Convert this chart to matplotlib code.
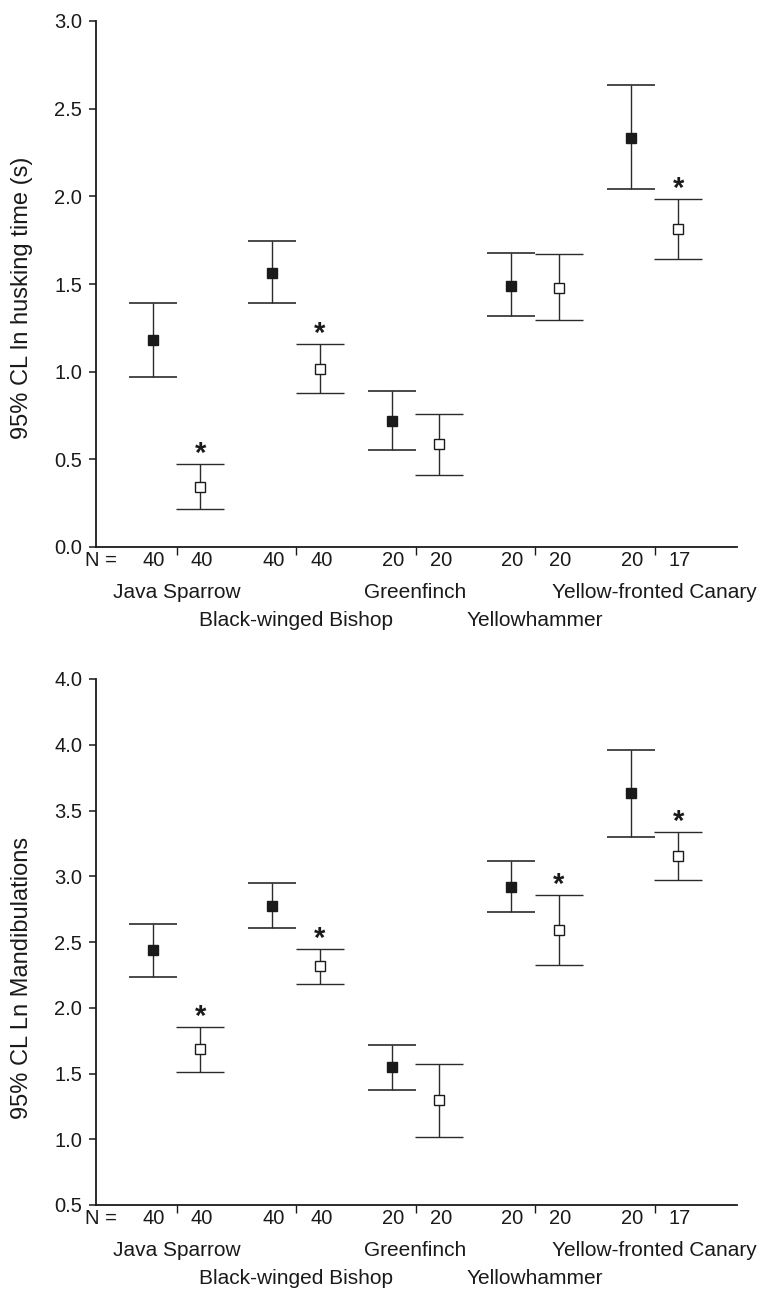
import numpy as np
import matplotlib
matplotlib.use("Agg")
import matplotlib.pyplot as plt

plt.rcParams['font.family'] = ['Liberation Sans', 'DejaVu Sans']

species = ['Java Sparrow', 'Black-winged Bishop', 'Greenfinch',
           'Yellowhammer', 'Yellow-fronted Canary']
n_filled = [40, 40, 20, 20, 20]
n_open = [40, 40, 20, 20, 17]

# ln husking time (s): mean with 95% CL
husk_mean_filled = [1.18, 1.56, 0.72, 1.49, 2.33]
husk_lo_filled = [0.97, 1.39, 0.555, 1.32, 2.04]
husk_hi_filled = [1.39, 1.745, 0.89, 1.675, 2.635]
husk_mean_open = [0.34, 1.015, 0.59, 1.48, 1.815]
husk_lo_open = [0.215, 0.88, 0.41, 1.295, 1.645]
husk_hi_open = [0.475, 1.155, 0.76, 1.67, 1.985]
husk_sig = [True, True, False, False, True]

# ln mandibulations: mean with 95% CL
mand_mean_filled = [2.44, 2.775, 1.55, 2.92, 3.63]
mand_lo_filled = [2.235, 2.61, 1.375, 2.725, 3.30]
mand_hi_filled = [2.635, 2.945, 1.72, 3.115, 3.96]
mand_mean_open = [1.685, 2.32, 1.30, 2.59, 3.155]
mand_lo_open = [1.51, 2.18, 1.015, 2.325, 2.97]
mand_hi_open = [1.855, 2.45, 1.57, 2.855, 3.335]
mand_sig = [True, True, False, True, True]

husk_ticks = [0.0, 0.5, 1.0, 1.5, 2.0, 2.5, 3.0]
husk_ticklabels = ['0.0', '0.5', '1.0', '1.5', '2.0', '2.5', '3.0']
mand_ticks = [0.5, 1.0, 1.5, 2.0, 2.5, 3.0, 3.5, 4.0, 4.5]
mand_ticklabels = ['0.5', '1.0', '1.5', '2.0', '2.5', '3.0', '3.5', '4.0', '4.0']

line_col = '#2b2b2b'
text_col = '#1a1a1a'
W, H = 763, 1289
fig = plt.figure(figsize=(W / 100, H / 100), dpi=100)


def px_axes(left, top, right, bottom):
    return fig.add_axes([left / W, 1 - bottom / H, (right - left) / W, (bottom - top) / H])


def draw_panel(ax, mf, lf, hf, mo, lo, ho, sig, ticks, ticklabels, ylabel, label_y):
    centers = np.arange(len(species))
    xf = centers - 0.2
    xo = centers + 0.2
    mf, lf, hf = map(np.asarray, (mf, lf, hf))
    mo, lo, ho = map(np.asarray, (mo, lo, ho))
    ax.errorbar(xf, mf, yerr=[mf - lf, hf - mf], fmt='s', color=line_col,
                ecolor=line_col, elinewidth=1.0, capsize=17.3, capthick=1.2,
                ms=7.2, mfc='#1a1a1a', mec='#1a1a1a', zorder=3)
    ax.errorbar(xo, mo, yerr=[mo - lo, ho - mo], fmt='s', color=line_col,
                ecolor=line_col, elinewidth=1.0, capsize=17.3, capthick=1.2,
                ms=6.5, mfc='white', mec='#1a1a1a', mew=1.0, zorder=3)
    for x, top, s in zip(xo, ho, sig):
        if s:
            ax.annotate('*', xy=(x, top), xytext=(0, 1.5), textcoords='offset points',
                        ha='center', va='baseline', fontsize=21, fontweight='bold',
                        color=text_col)

    ax.set_xlim(-0.674, 4.69)
    ax.set_ylim(ticks[0], ticks[-1])
    ax.set_xticks(centers)
    ax.set_xticklabels([])
    ax.set_yticks(ticks)
    ax.set_yticklabels(ticklabels)
    ax.tick_params(axis='y', direction='out', length=5, width=1.1, labelsize=14.5,
                   pad=5, colors=text_col)
    ax.tick_params(axis='x', direction='out', length=6, width=1.0, colors=text_col)
    for side in ('top', 'right'):
        ax.spines[side].set_visible(False)
    for side in ('left', 'bottom'):
        ax.spines[side].set_linewidth(1.3)
        ax.spines[side].set_color('#1a1a1a')

    ax.set_ylabel(ylabel, fontsize=17, color=text_col)
    ax.yaxis.set_label_coords(-0.098, label_y)

    # sample sizes under each mean, species names centred on the dividers
    kw = dict(xycoords=('data', 'axes fraction'), textcoords='offset points',
              ha='center', va='center', color=text_col)
    ax.annotate('N =', xy=(-0.63, 0), xytext=(0, -10), fontsize=14.5, **kw)
    for x, n in zip(xf, n_filled):
        ax.annotate(str(n), xy=(x, 0), xytext=(1, -10), fontsize=14.5, **kw)
    for x, n in zip(xo, n_open):
        ax.annotate(str(n), xy=(x, 0), xytext=(1, -10), fontsize=14.5, **kw)
    for i, name in enumerate(species):
        dy = -32.4 if i % 2 == 0 else -52.6
        ax.annotate(name, xy=(centers[i], 0), xytext=(0, dy), fontsize=15, **kw)


ax1 = px_axes(96, 21, 737, 547)
draw_panel(ax1, husk_mean_filled, husk_lo_filled, husk_hi_filled,
           husk_mean_open, husk_lo_open, husk_hi_open, husk_sig,
           husk_ticks, husk_ticklabels, '95% CL ln husking time (s)', 0.473)

ax2 = px_axes(96, 679, 737, 1205)
draw_panel(ax2, mand_mean_filled, mand_lo_filled, mand_hi_filled,
           mand_mean_open, mand_lo_open, mand_hi_open, mand_sig,
           mand_ticks, mand_ticklabels, '95% CL Ln Mandibulations', 0.432)

fig.savefig('out.png', dpi=100)
